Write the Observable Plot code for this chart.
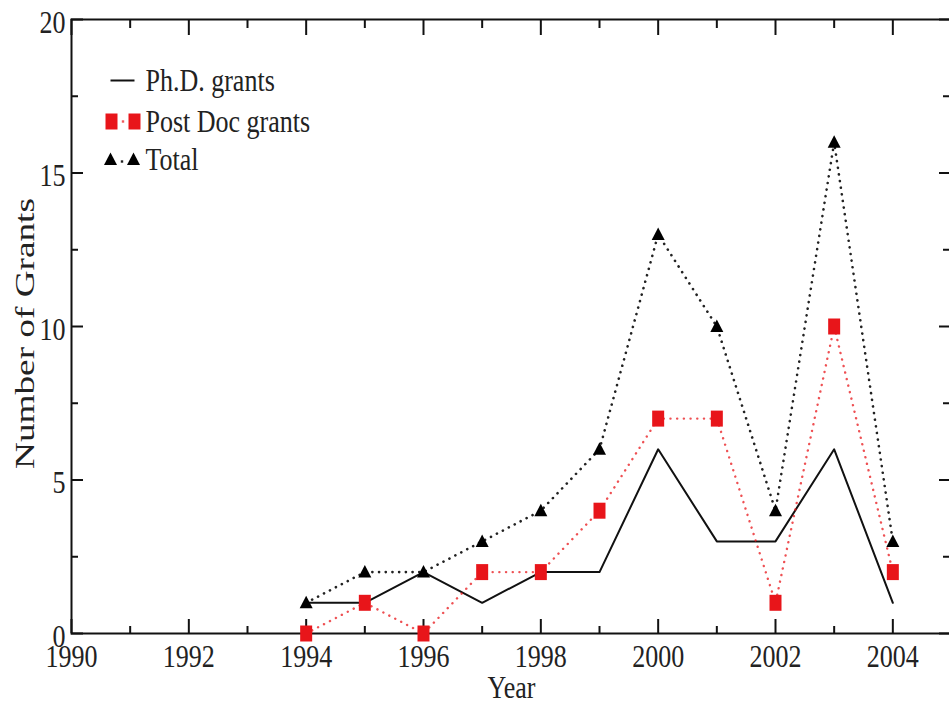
<!DOCTYPE html>
<html>
<head>
<meta charset="utf-8">
<script src="https://cdn.jsdelivr.net/npm/d3@7"></script>
<script src="https://cdn.jsdelivr.net/npm/@observablehq/plot@0.6"></script>
<style>
  html, body { margin: 0; padding: 0; background: #fff; overflow: hidden; }
  #chart svg { display: block; }
</style>
</head>
<body>
<div id="chart"></div>
<script>
// ---- data ----
const years = [1994, 1995, 1996, 1997, 1998, 1999, 2000, 2001, 2002, 2003, 2004];
const phd = [1, 1, 2, 1, 2, 2, 6, 3, 3, 6, 1];
const postdoc = [0, 1, 0, 2, 2, 4, 7, 7, 1, 10, 2];
const total = [1, 2, 2, 3, 4, 6, 13, 10, 4, 16, 3];

const xMajorTicks = [1990, 1992, 1994, 1996, 1998, 2000, 2002, 2004];
const xMinorTicks = [1991, 1993, 1995, 1997, 1999, 2001, 2003];
const yMajorTicks = [0, 5, 10, 15, 20];
const yMinorTicks = [2.5, 7.5, 12.5, 17.5];

const legendLabels = ["Ph.D. grants", "Post Doc grants", "Total"];
const xLabel = "Year";
const yLabel = "Number of Grants";

// ---- build tables ----
const phdData = years.map((y, i) => ({year: y, value: phd[i]}));
const postdocData = years.map((y, i) => ({year: y, value: postdoc[i]}));
const totalData = years.map((y, i) => ({year: y, value: total[i]}));

// custom symbols
const rectSymbol = {draw(ctx) { ctx.moveTo(-6, -8); ctx.lineTo(6, -8); ctx.lineTo(6, 8); ctx.lineTo(-6, 8); ctx.closePath(); }};
const triSymbol = {draw(ctx) { ctx.moveTo(0, -7); ctx.lineTo(6.5, 5.5); ctx.lineTo(-6.5, 5.5); ctx.closePath(); }};
const hLineSymbol = {draw(ctx) { ctx.moveTo(-12, 0); ctx.lineTo(12, 0); }};
const dotSymbol = {draw(ctx) { ctx.moveTo(-1.2, -1.2); ctx.lineTo(1.2, -1.2); ctx.lineTo(1.2, 1.2); ctx.lineTo(-1.2, 1.2); ctx.closePath(); }};

const RED = "#e8151a";
const W = 949, H = 706;
const mL = 71, mR = -2, mT = 19, mB = 73;
const innerW = W - mL - mR, innerH = H - mT - mB;
const FONT = "'Liberation Serif', 'Times New Roman', serif";

const legendRowDy = [61, 102, 140];
const one = [0];

const marks = [
  // frame
  Plot.frame({stroke: "#111", strokeWidth: 2}),
  // inward ticks: bottom
  Plot.tickX(xMajorTicks, {x: d => d, stroke: "#111", strokeWidth: 2, insetTop: innerH - 14}),
  Plot.tickX(xMinorTicks, {x: d => d, stroke: "#111", strokeWidth: 2, insetTop: innerH - 7}),
  // top
  Plot.tickX(xMajorTicks, {x: d => d, stroke: "#111", strokeWidth: 2, insetBottom: innerH - 16}),
  Plot.tickX(xMinorTicks, {x: d => d, stroke: "#111", strokeWidth: 2, insetBottom: innerH - 9}),
  // left
  Plot.tickY(yMajorTicks, {y: d => d, stroke: "#111", strokeWidth: 2, insetRight: innerW - 12}),
  Plot.tickY(yMinorTicks, {y: d => d, stroke: "#111", strokeWidth: 2, insetRight: innerW - 7}),
  // right
  Plot.tickY(yMajorTicks, {y: d => d, stroke: "#111", strokeWidth: 2, insetLeft: innerW - 12}),
  Plot.tickY(yMinorTicks, {y: d => d, stroke: "#111", strokeWidth: 2, insetLeft: innerW - 8}),
  // axis labels
  Plot.axisX({ticks: xMajorTicks, tickFormat: d => String(d), tickSize: 0, tickPadding: 10, label: null, fontSize: 26, fill: "#222"}),
  Plot.axisY({ticks: yMajorTicks, tickFormat: d => String(d), tickSize: 0, tickPadding: 6, label: null, fontSize: 26, fill: "#222", dy: 3}),
  Plot.text([xLabel], {frameAnchor: "bottom", dy: 54, fontSize: 26, fill: "#222", textAnchor: "middle", lineAnchor: "middle"}),
  Plot.text([yLabel], {frameAnchor: "left", dx: -46, dy: 7, rotate: -90, fontSize: 27, fill: "#222", textAnchor: "middle", lineAnchor: "middle"}),

  // Ph.D. solid line
  Plot.line(phdData, {x: "year", y: "value", stroke: "#111", strokeWidth: 2}),
  // Total dotted line
  Plot.line(totalData, {x: "year", y: "value", stroke: "#222", strokeWidth: 2.6, strokeDasharray: "0.1 6.6", strokeLinecap: "round"}),
  // Post Doc dotted line
  Plot.line(postdocData, {x: "year", y: "value", stroke: RED, strokeWidth: 2.4, strokeDasharray: "0.1 6.6", strokeLinecap: "round", strokeOpacity: 0.75}),
  Plot.dot(postdocData, {x: "year", y: "value", symbol: rectSymbol, fill: RED, stroke: "none"}),
  Plot.dot(totalData, {x: "year", y: "value", symbol: triSymbol, fill: "#000", stroke: "none"}),

  // legend row 1
  Plot.dot(one, {frameAnchor: "top-left", dx: 51, dy: legendRowDy[0], symbol: hLineSymbol, stroke: "#111", strokeWidth: 2, fill: "none"}),
  Plot.text([legendLabels[0]], {frameAnchor: "top-left", dx: 74, dy: legendRowDy[0], textAnchor: "start", lineAnchor: "middle", fontSize: 26, fill: "#222"}),
  // legend row 2
  Plot.dot(one, {frameAnchor: "top-left", dx: 40, dy: legendRowDy[1], symbol: rectSymbol, fill: RED, stroke: "none"}),
  Plot.dot(one, {frameAnchor: "top-left", dx: 51.5, dy: legendRowDy[1], symbol: dotSymbol, fill: RED, stroke: "none", fillOpacity: 0.7}),
  Plot.dot(one, {frameAnchor: "top-left", dx: 63, dy: legendRowDy[1], symbol: rectSymbol, fill: RED, stroke: "none"}),
  Plot.text([legendLabels[1]], {frameAnchor: "top-left", dx: 74, dy: legendRowDy[1], textAnchor: "start", lineAnchor: "middle", fontSize: 26, fill: "#222"}),
  // legend row 3
  Plot.dot(one, {frameAnchor: "top-left", dx: 39, dy: legendRowDy[2], symbol: triSymbol, fill: "#000", stroke: "none"}),
  Plot.dot(one, {frameAnchor: "top-left", dx: 50.5, dy: legendRowDy[2] + 2, symbol: dotSymbol, fill: "#222", stroke: "none"}),
  Plot.dot(one, {frameAnchor: "top-left", dx: 62, dy: legendRowDy[2], symbol: triSymbol, fill: "#000", stroke: "none"}),
  Plot.text([legendLabels[2]], {frameAnchor: "top-left", dx: 74, dy: legendRowDy[2], textAnchor: "start", lineAnchor: "middle", fontSize: 26, fill: "#222"})
];

const chart = Plot.plot({
  width: W,
  height: H,
  marginLeft: mL,
  marginRight: mR,
  marginTop: mT,
  marginBottom: mB,
  style: {fontFamily: FONT, background: "#fff", overflow: "hidden"},
  x: {domain: [1990, 2005], axis: null},
  y: {domain: [0, 20], axis: null},
  marks
});

// stretch the glyphs to mimic the reference's tall serif lettering
d3.select(chart).selectAll("text").each(function() {
  const t = this.getAttribute("transform") || "";
  if (this.textContent === yLabel) {
    this.setAttribute("transform", t + " scale(1.38,1)");
  } else if (t) {
    this.setAttribute("transform", t + " scale(1,1.25)");
  }
});

document.getElementById("chart").appendChild(chart);
</script>
</body>
</html>
